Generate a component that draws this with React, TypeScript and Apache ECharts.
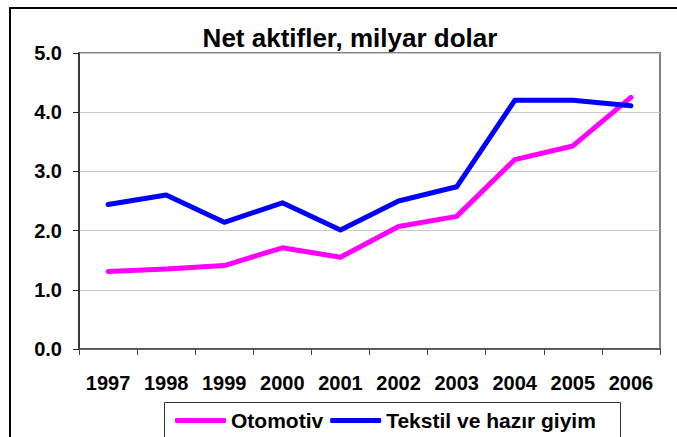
import React, { useEffect, useRef } from "react";
import * as echarts from "echarts";

const years = ["1997", "1998", "1999", "2000", "2001", "2002", "2003", "2004", "2005", "2006"];
const otomotiv = [1.31, 1.35, 1.41, 1.71, 1.55, 2.07, 2.24, 3.2, 3.43, 4.25];
const tekstil = [2.44, 2.6, 2.14, 2.47, 2.01, 2.5, 2.74, 4.2, 4.2, 4.11];
const seriesNames = ["Otomotiv", "Tekstil ve hazır giyim"];
const titleText = "Net aktifler, milyar dolar";

const FONT = "'Liberation Sans', Arial, sans-serif";

export default function App() {
  const ref = useRef<HTMLDivElement>(null);
  useEffect(() => {
    if (!ref.current) return;
    const chart = echarts.init(ref.current, undefined, { renderer: "svg" });
    chart.setOption({
      animation: false,
      backgroundColor: "#ffffff",
      title: {
        text: titleText,
        left: 345,
        textAlign: "center",
        top: 20,
        textStyle: { fontFamily: FONT, fontSize: 26, fontWeight: "bold", color: "#000" },
      },
      grid: {
        left: 79,
        right: 17,
        top: 53,
        bottom: 88,
        show: true,
        borderColor: "#808080",
        borderWidth: 2,
      },
      legend: {
        left: 170,
        top: 405,
        itemWidth: 51,
        itemHeight: 5,
        itemGap: 7,
        icon: "roundRect",
        textStyle: { fontFamily: FONT, fontSize: 21, fontWeight: "bold", color: "#000" },
        data: seriesNames,
      },
      xAxis: {
        type: "category",
        data: years,
        boundaryGap: true,
        axisLine: { lineStyle: { color: "#444", width: 1.5 } },
        axisTick: { show: true, length: 6, alignWithLabel: false, lineStyle: { color: "#444" } },
        axisLabel: {
          fontFamily: FONT,
          fontSize: 20,
          fontWeight: "bold",
          color: "#000",
          margin: 24,
          interval: 0,
        },
        splitLine: { show: false },
      },
      yAxis: {
        type: "value",
        min: 0,
        max: 5,
        interval: 1,
        axisLine: { show: true, lineStyle: { color: "#222", width: 1.5 } },
        axisTick: { show: true, length: 6, lineStyle: { color: "#222" } },
        axisLabel: {
          fontFamily: FONT,
          fontSize: 20,
          fontWeight: "bold",
          color: "#000",
          margin: 17,
          formatter: (v: number) => v.toFixed(1),
        },
        splitLine: { show: true, lineStyle: { color: "#c8c8c8", width: 1 } },
      },
      series: [
        {
          name: seriesNames[0],
          type: "line",
          data: otomotiv,
          symbol: "none",
          lineStyle: { color: "#ff00ff", width: 5, cap: "round", join: "round" },
          itemStyle: { color: "#ff00ff" },
        },
        {
          name: seriesNames[1],
          type: "line",
          data: tekstil,
          symbol: "none",
          lineStyle: { color: "#0000ff", width: 5, cap: "round", join: "round" },
          itemStyle: { color: "#0000ff" },
        },
      ],
      graphic: [
        {
          type: "rect",
          shape: { x: 10, y: 8, width: 720, height: 500 },
          style: { fill: "none", stroke: "#000", lineWidth: 2 },
          silent: true,
        },
        {
          type: "rect",
          shape: { x: 164.5, y: 402.5, width: 456, height: 60 },
          style: { fill: "none", stroke: "#333", lineWidth: 1 },
          silent: true,
        },
      ],
    });
    return () => chart.dispose();
  }, []);
  return (
    <div
      ref={ref}
      style={{ position: "fixed", left: 0, top: 0, width: 677, height: 437, background: "#fff" }}
    />
  );
}
